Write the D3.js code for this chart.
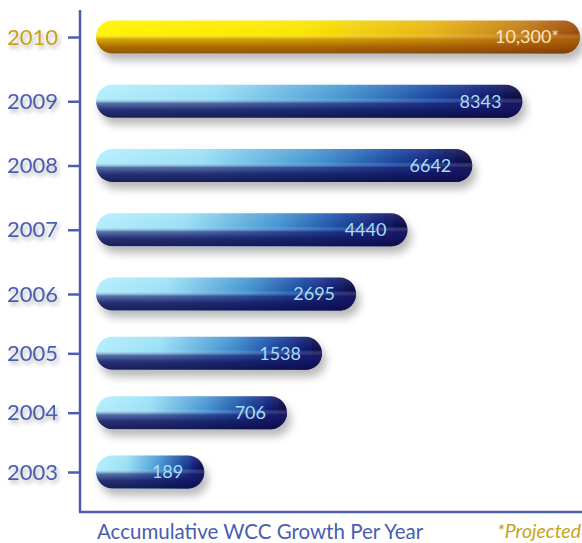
<!DOCTYPE html>
<html>
<head>
<meta charset="utf-8">
<script src="https://cdn.jsdelivr.net/npm/d3@7"></script>
<style>
  body { margin: 0; background: #fff; }
  svg { display: block; font-family: Lato, "Open Sans", sans-serif; }
</style>
</head>
<body>
<div id="chart"></div>
<script>
// data
var years = ["2010", "2009", "2008", "2007", "2006", "2005", "2004", "2003"];
var values = [10300, 8343, 6642, 4440, 2695, 1538, 706, 189];
var valueLabels = ["10,300*", "8343", "6642", "4440", "2695", "1538", "706", "189"];
var projected = [true, false, false, false, false, false, false, false];
var title = "Accumulative WCC Growth Per Year";
var note = "*Projected";

var data = years.map(function(y, i) {
  return { year: y, value: values[i], label: valueLabels[i], projected: projected[i] };
});

var width = 582, height = 543;
var axisX = 80, axisBottom = 512, barStart = 96, barH = 33;
var blue = "#4a5db0", gold = "#c9a21c";

var svg = d3.select("#chart").append("svg")
    .attr("width", width)
    .attr("height", height);

var defs = svg.append("defs");

// horizontal colour runs
var gBlue = defs.append("linearGradient").attr("id", "blueH");
[["0%", "#b2eefc"], ["28%", "#9ae0f6"], ["58%", "#4596d2"], ["78%", "#1a4ca4"], ["90%", "#10207a"], ["100%", "#0a0640"]]
  .forEach(function(s) { gBlue.append("stop").attr("offset", s[0]).attr("stop-color", s[1]); });

var gGold = defs.append("linearGradient").attr("id", "goldH");
[["0%", "#fff400"], ["42%", "#fbe600"], ["70%", "#e6b414"], ["88%", "#c47e14"], ["100%", "#9a4a0c"]]
  .forEach(function(s) { gGold.append("stop").attr("offset", s[0]).attr("stop-color", s[1]); });

// vertical shading on the lower half
var vBlue = defs.append("linearGradient").attr("id", "blueV").attr("x2", 0).attr("y2", 1);
[["0%", "#ffffff", 0.12], ["40%", "#ffffff", 0], ["56%", "#1c1f72", 0.6], ["76%", "#141660", 0.88], ["100%", "#0c0c48", 0.92]]
  .forEach(function(s) { vBlue.append("stop").attr("offset", s[0]).attr("stop-color", s[1]).attr("stop-opacity", s[2]); });

var vGold = defs.append("linearGradient").attr("id", "goldV").attr("x2", 0).attr("y2", 1);
[["0%", "#ffffff", 0.1], ["40%", "#ffffff", 0], ["56%", "#b06a00", 0.55], ["78%", "#9a4e04", 0.8], ["100%", "#7a3806", 0.85]]
  .forEach(function(s) { vGold.append("stop").attr("offset", s[0]).attr("stop-color", s[1]).attr("stop-opacity", s[2]); });

var shadow = defs.append("filter").attr("id", "shadow")
    .attr("x", "-10%").attr("y", "-30%").attr("width", "130%").attr("height", "190%");
shadow.append("feDropShadow").attr("dx", 4).attr("dy", 7).attr("stdDeviation", 4)
    .attr("flood-color", "#000").attr("flood-opacity", 0.28);

var textShadow = defs.append("filter").attr("id", "textShadow")
    .attr("x", "-20%").attr("y", "-30%").attr("width", "150%").attr("height", "180%");
textShadow.append("feDropShadow").attr("dx", 2).attr("dy", 3).attr("stdDeviation", 2)
    .attr("flood-color", "#000").attr("flood-opacity", 0.3);

// bar length is not proportional in the original, so the scale is piecewise
var x = d3.scaleLinear()
    .domain([0, 706, 1538, 10300])
    .range([78, 191, 226, 484]);

// rows are a little unevenly spaced in the original
var row = d3.scaleLinear()
    .domain([0, 4, years.length - 1])
    .range([37, 294, 472]);

var y = d3.scaleOrdinal()
    .domain(years)
    .range(years.map(function(d, i) { return row(i); }));

// axis lines
svg.append("line")
    .attr("x1", axisX).attr("x2", axisX).attr("y1", 10).attr("y2", axisBottom)
    .attr("stroke", blue).attr("stroke-width", 2.5);
svg.append("line")
    .attr("x1", axisX - 1).attr("x2", width).attr("y1", axisBottom).attr("y2", axisBottom)
    .attr("stroke", blue).attr("stroke-width", 2.5);

var yAxis = svg.append("g")
    .attr("transform", "translate(" + axisX + ",0)")
    .call(d3.axisLeft(y).tickSize(12).tickSizeOuter(0).tickPadding(10));
yAxis.select(".domain").remove();
yAxis.selectAll(".tick line").attr("stroke", blue).attr("stroke-width", 2.5);
yAxis.selectAll(".tick text")
    .attr("font-size", 22)
    .attr("font-family", "Lato, sans-serif")
    .attr("filter", "url(#textShadow)")
    .attr("fill", function(d) { return data[years.indexOf(d)].projected ? gold : blue; });

// bars
var bar = svg.append("g").selectAll("g")
  .data(data)
  .enter().append("g")
    .attr("transform", function(d) { return "translate(" + barStart + "," + (y(d.year) - barH / 2) + ")"; });

bar.append("rect")
    .attr("width", function(d) { return x(d.value); })
    .attr("height", barH)
    .attr("rx", barH / 2)
    .attr("fill", function(d) { return d.projected ? "url(#goldH)" : "url(#blueH)"; })
    .attr("filter", "url(#shadow)");

bar.append("rect")
    .attr("width", function(d) { return x(d.value); })
    .attr("height", barH)
    .attr("rx", barH / 2)
    .attr("fill", function(d) { return d.projected ? "url(#goldV)" : "url(#blueV)"; });

bar.append("text")
    .attr("x", function(d) { return x(d.value) - 21; })
    .attr("y", barH / 2)
    .attr("dy", "0.36em")
    .attr("text-anchor", "end")
    .attr("font-size", 18)
    .attr("fill", function(d) { return d.projected ? "#fbe4c4" : "#a9def4"; })
    .text(function(d) { return d.label; });

// footer texts
svg.append("text")
    .attr("x", 97).attr("y", 539)
    .attr("font-size", 20.5)
    .attr("fill", blue)
    .text(title);

svg.append("text")
    .attr("x", 581).attr("y", 538)
    .attr("text-anchor", "end")
    .attr("font-size", 19.5)
    .attr("font-style", "italic")
    .attr("fill", gold)
    .text(note);
</script>
</body>
</html>
